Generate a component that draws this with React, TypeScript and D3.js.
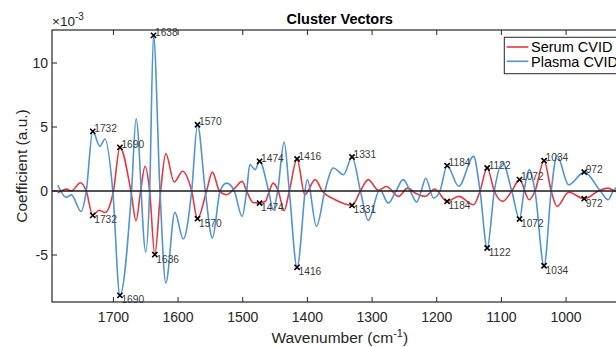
import React from "react";
import * as d3 from "d3";

// Coefficients are stored in units of 1e-3 (shown by the axis multiplier).
const serumWavenumbers = [
  1786, 1772, 1765, 1751, 1742, 1732, 1722, 1713, 1700, 1690, 1673, 1665, 1658, 1651, 1644, 1636,
  1627, 1619, 1606, 1593, 1579, 1570, 1556, 1547, 1536, 1525, 1512, 1501, 1494, 1484, 1474, 1465,
  1459, 1453, 1445, 1436, 1428, 1416, 1404, 1388, 1377, 1357, 1331, 1318, 1306, 1290, 1278, 1259,
  1245, 1232, 1218, 1203, 1184, 1166, 1143, 1133, 1122, 1111, 1098, 1084, 1072, 1057, 1048, 1034,
  1023, 1014, 996, 972, 950, 935, 925, 912, 903,
];
const serumCoefficients = [
  -0.15, 0.15, 0.0, 0.65, 0, -1.9, -1.5, -1.68, 0, 3.41, 0, -2.32, 0, 1.93, 0, -4.97,
  0, 2.92, 0.7, 1.54, 0, -2.16, 0, 1.48, 0, -0.29, 0.25, 0.75, 0, -0.9, -0.94, -0.8,
  0, 0.62, 0, -1.54, 0, 2.5, -0.29, 0.89, 0, -0.68, -1.12, 0, 0.89, 0.05, 0.35, -0.42,
  0.23, -0.2, -0.42, 0.16, -0.81, -0.42, -1.07, 0, 1.8, 0, -0.81, 0, 0.89, -0.68, 0, 2.37,
  0, -1.2, -0.1, -0.6, 0, 0.23, 0, -0.2, 0,
];

const plasmaWavenumbers = [
  1786, 1773, 1765, 1750, 1742, 1732, 1721, 1713, 1701, 1690, 1672, 1665, 1650, 1644, 1638, 1628,
  1619, 1605, 1592, 1579, 1570, 1558, 1547, 1535, 1525, 1513, 1501, 1494, 1489, 1481, 1474, 1460,
  1453, 1446, 1436, 1428, 1416, 1400, 1386, 1373, 1360, 1344, 1331, 1318, 1306, 1288, 1275, 1263,
  1252, 1241, 1231, 1224, 1217, 1205, 1195, 1184, 1166, 1143, 1133, 1122, 1111, 1098, 1084, 1072,
  1065, 1057, 1048, 1034, 1023, 1014, 996, 972, 947, 935, 927, 915, 903,
];
const plasmaCoefficients = [
  0.47, -0.5, -0.3, -1.6, 0, 4.66, 3.49, 4.06, 0, -8.15, 0, 5.65, -4.77, 0, 12.16, 0,
  -7.19, -1.67, -3.75, 0, 5.18, 0, -3.67, 0, 0.62, 0, -1.98, 0, 2.06, 1.67, 2.32, 0,
  -1.46, 0, 3.83, 0, -5.96, 0.89, -2.76, 0, 1.8, 1.28, 2.66, 0, -2.29, 0.1, -0.94, 0,
  0.89, 0, -0.86, 0, 1.0, -0.55, 0, 1.98, 0.37, 2.71, 0, -4.45, 0, 2.19, 0, -2.19,
  0, 1.67, 0, -5.84, 0, 2.76, 0.49, 1.48, 0, -0.68, 0, 0.45, 0.1,
];

// Peak positions marked with a cross and labelled with their wavenumber.
const serumPeaks = [1732, 1690, 1636, 1570, 1474, 1416, 1331, 1184, 1122, 1072, 1034, 972];
const plasmaPeaks = [1732, 1690, 1638, 1570, 1474, 1416, 1331, 1184, 1122, 1072, 1034, 972];

const xTicks = [1700, 1600, 1500, 1400, 1300, 1200, 1100, 1000];
const yTicks = [-5, 0, 5, 10];

const seriesNames = ["Serum CVID", "Plasma CVID"];
const seriesColors = ["#e8383d", "#5094d3"];

const FONT = "'Liberation Sans', Arial, Helvetica, sans-serif";
const AXIS = "#262626";

export default function App() {
  const left = 52;
  const right = 627.5;
  const top = 30;
  const bottom = 302;

  const x = d3.scaleLinear().domain([1795, 905]).range([left, right]);
  const y = d3.scaleLinear().domain([-8.67, 12.58]).range([bottom, top]);

  const line = d3
    .line<[number, number]>()
    .x((d) => x(d[0]))
    .y((d) => y(d[1]))
    .curve(d3.curveMonotoneX);

  const serum: [number, number][] = serumWavenumbers.map((w, i) => [w, serumCoefficients[i]]);
  const plasma: [number, number][] = plasmaWavenumbers.map((w, i) => [w, plasmaCoefficients[i]]);

  const peaksOf = (series: [number, number][], peaks: number[]) =>
    peaks.map((w) => {
      const p = series.find((d) => d[0] === w)!;
      return { w, v: p[1] };
    });

  const markers = [...peaksOf(serum, serumPeaks), ...peaksOf(plasma, plasmaPeaks)];

  const tickLen = 5;

  return (
    <div
      style={{
        position: "absolute",
        left: 0,
        top: 0,
        width: 616,
        height: 347,
        overflow: "hidden",
        background: "#fff",
      }}
    >
      <svg width={660} height={347} style={{ display: "block", fontFamily: FONT }}>
        <rect x={0} y={0} width={660} height={347} fill="#fff" />

        <clipPath id="plot-area">
          <rect x={left} y={top} width={right - left} height={bottom - top} />
        </clipPath>

        {/* curves */}
        <g clipPath="url(#plot-area)" fill="none" strokeWidth={1.6} strokeLinejoin="round">
          <path d={line(serum) ?? ""} stroke={seriesColors[0]} />
          <path d={line(plasma) ?? ""} stroke={seriesColors[1]} />
          <line x1={left} x2={right} y1={y(0)} y2={y(0)} stroke="#1a1a1a" strokeWidth={1.6} />
        </g>

        {/* peak markers and labels */}
        <g>
          {markers.map((m, i) => {
            const cx = x(m.w);
            const cy = y(m.v);
            const s = 2.6;
            const up = m.v > 0;
            return (
              <g key={i}>
                <path
                  d={`M${cx - s},${cy - s}L${cx + s},${cy + s}M${cx - s},${cy + s}L${cx + s},${cy - s}`}
                  stroke="#000"
                  strokeWidth={1.6}
                />
                <text
                  x={cx + 1.5}
                  y={up ? cy - 3 : cy + 4.5}
                  dy="0.35em"
                  fontSize={10.2}
                  fill="#3a3a3a"
                >
                  {m.w}
                </text>
              </g>
            );
          })}
        </g>

        {/* axes box */}
        <rect
          x={left}
          y={top}
          width={right - left}
          height={bottom - top}
          fill="none"
          stroke={AXIS}
          strokeWidth={1.2}
        />

        {/* x ticks */}
        {xTicks.map((t) => (
          <g key={`x${t}`}>
            <line x1={x(t)} x2={x(t)} y1={bottom} y2={bottom - tickLen} stroke={AXIS} strokeWidth={1} />
            <line x1={x(t)} x2={x(t)} y1={top} y2={top + tickLen} stroke={AXIS} strokeWidth={1} />
            <text x={x(t)} y={322} textAnchor="middle" fontSize={14} fill={AXIS}>
              {t}
            </text>
          </g>
        ))}

        {/* y ticks */}
        {yTicks.map((t) => (
          <g key={`y${t}`}>
            <line x1={left} x2={left + tickLen} y1={y(t)} y2={y(t)} stroke={AXIS} strokeWidth={1} />
            <line x1={right} x2={right - tickLen} y1={y(t)} y2={y(t)} stroke={AXIS} strokeWidth={1} />
            <text x={48} y={y(t)} dy="0.36em" textAnchor="end" fontSize={14} fill={AXIS}>
              {t}
            </text>
          </g>
        ))}

        {/* axis multiplier */}
        <text x={52} y={26} fontSize={13.5} fill={AXIS}>
          ×10
          <tspan dy={-6} fontSize={10}>
            -3
          </tspan>
        </text>

        {/* title */}
        <text x={(left + right) / 2} y={24} textAnchor="middle" fontSize={14.5} fontWeight="bold" fill="#000">
          Cluster Vectors
        </text>

        {/* axis labels */}
        <text x={(left + right) / 2} y={343} textAnchor="middle" fontSize={15.5} fill={AXIS}>
          Wavenumber (cm
          <tspan dy={-6} fontSize={11}>
            -1
          </tspan>
          <tspan dy={6}>)</tspan>
        </text>
        <text
          transform={`translate(27,${(top + bottom) / 2}) rotate(-90)`}
          textAnchor="middle"
          fontSize={15.5}
          fill={AXIS}
        >
          Coefficient (a.u.)
        </text>

        {/* legend */}
        <g>
          <rect x={504.3} y={37.3} width={118} height={36.4} fill="#fff" stroke={AXIS} strokeWidth={1} />
          {seriesNames.map((name, i) => {
            const ly = 47 + i * 14.3;
            return (
              <g key={name}>
                <line x1={506.7} x2={528.3} y1={ly} y2={ly} stroke={seriesColors[i]} strokeWidth={1.6} />
                <text x={531} y={ly + 5.3} fontSize={14.5} fill="#000">
                  {name}
                </text>
              </g>
            );
          })}
        </g>
      </svg>
    </div>
  );
}
